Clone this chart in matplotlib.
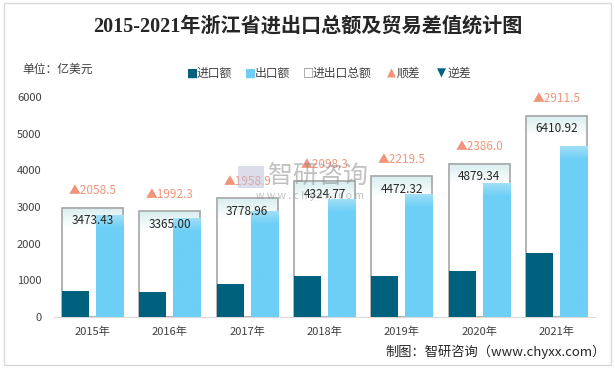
import numpy as np
import matplotlib
matplotlib.use('Agg')
import matplotlib.pyplot as plt
from matplotlib.colors import to_rgb
from matplotlib.patches import Rectangle

plt.rcParams['font.family'] = ['Noto Sans CJK SC', 'DejaVu Sans']

years = ['2015年', '2016年', '2017年', '2018年', '2019年', '2020年', '2021年']
imports = [707.47, 686.35, 910.03, 1113.24, 1126.41, 1246.67, 1749.71]
exports = [2765.97, 2678.65, 2868.93, 3211.54, 3345.91, 3632.67, 4661.21]
totals = [3473.43, 3365.00, 3778.96, 4324.77, 4472.32, 4879.34, 6410.92]
surplus = [2058.5, 1992.3, 1958.9, 2098.3, 2219.5, 2386.0, 2911.5]

c_imp = '#00617F'
c_exp = '#6DCFF6'
c_sur = '#F29479'
c_edge = '#A6A6A6'


def grad_rect(axis, x0, x1, y0, y1, top, bot, g, z):
    # vertical gradient, top colour fading to bot over the upper g units
    ys = np.linspace(y0, y1, 300)
    w = np.clip((ys - (y1 - g)) / g, 0, 1)[:, None]
    cols = np.array(to_rgb(bot)) * (1 - w) + np.array(to_rgb(top)) * w
    axis.imshow(cols[:, None, :], extent=[x0, x1, y0, y1], origin='lower',
                aspect='auto', interpolation='bilinear', zorder=z)


fig = plt.figure(figsize=(6.15, 3.69), dpi=100)
fig.patches.append(Rectangle((4 / 615, 4 / 369), 607 / 615, 362 / 369,
                             transform=fig.transFigure, fill=False,
                             edgecolor='#D9D9D9', lw=1))

ax = fig.add_axes([54 / 615, 1 - 317 / 369, 541 / 615, 220 / 369])
x = np.arange(len(years))
bw = 0.79

# total boxes (own hidden scale 0-7000)
for i, t in enumerate(totals):
    grad_rect(ax, x[i] - bw / 2, x[i] + bw / 2, 0, t, '#D8EEEF', '#FFFFFF', 650, 1)
    ax.add_patch(Rectangle((x[i] - bw / 2, 0), bw, t, fill=False,
                           edgecolor=c_edge, lw=1.2, zorder=2))
ax.set_xlim(-0.5, len(years) - 0.5)
ax.set_ylim(0, 7000)

ax2 = ax.twinx()
ax2.bar(x - 0.22, imports, 0.35, color=c_imp, zorder=3)
ax2.bar(x + 0.22, exports, 0.35, color=c_exp, zorder=3)
for i, e in enumerate(exports):
    grad_rect(ax2, x[i] + 0.045, x[i] + 0.395, 0, e, '#A2DFF7', c_exp, 350, 4)
ax2.set_xlim(-0.5, len(years) - 0.5)
ax2.set_ylim(0, 6000)
ax2.yaxis.tick_left()
ax2.set_yticks(range(0, 7000, 1000))
ax2.tick_params(axis='y', length=0, pad=9, labelsize=8, labelcolor='#404040')
ax.yaxis.set_visible(False)
for a in (ax, ax2):
    for s in ('top', 'right', 'left'):
        a.spines[s].set_visible(False)
ax2.spines['bottom'].set_visible(False)
ax.spines['bottom'].set_color('#D9D9D9')
ax.set_xticks(x)
ax.set_xticklabels(years)
ax.tick_params(axis='x', length=0, pad=7, labelsize=8, labelcolor='#404040')

for i, t in enumerate(totals):
    ax2.annotate('%.2f' % t, xy=(x[i], t), xycoords=ax.transData,
                 xytext=(0, -13), textcoords='offset pixels', ha='center',
                 va='center', fontsize=8.5, color='#262626', zorder=6)
    ax2.annotate('▲' + '%.1f' % surplus[i], xy=(x[i], t), xycoords=ax.transData,
                 xytext=(0, 17), textcoords='offset pixels', ha='center',
                 va='center', fontsize=8.5, color=c_sur, zorder=6)

# watermark
fig.text(268 / 615, 1 - 176 / 369, '智研咨询', fontsize=18, color='#8F8F8F',
         alpha=0.55, va='center', ha='left')
fig.text(310 / 615, 1 - 196 / 369, 'w w w . c h y x x . c o m', fontsize=7.5,
         color='#8F8F8F', alpha=0.55, va='center', ha='center')
fig.patches.append(Rectangle((238 / 615, 1 - 188 / 369), 26 / 615, 22 / 369,
                             transform=fig.transFigure, facecolor='#B8BFD6',
                             edgecolor='none', alpha=0.5))

fig.text(0.5, 1 - 27 / 369, '2015-2021年浙江省进出口总额及贸易差值统计图',
         ha='center', va='center', fontsize=14.5, weight='bold', color='#262626',
         family=['Liberation Serif', 'Noto Sans CJK SC'])
fig.text(22 / 615, 1 - 69 / 369, '单位：亿美元', fontsize=8.5, color='#404040',
         va='center')

# legend
items = [(187, '■', c_imp, '进口额'), (245, '■', c_exp, '出口额'),
         (303, '□', '#8C8C8C', '进出口总额'), (387, '▲', c_sur, '顺差'),
         (437, '▼', c_imp, '逆差')]
for px, sym, col, lab in items:
    fig.text(px / 615, 1 - 73 / 369, sym, fontsize=8.5, color=col, va='center',
             family=['DejaVu Sans'])
    fig.text((px + 10) / 615, 1 - 73 / 369, lab, fontsize=8.5, color='#404040',
             va='center')

fig.text(606 / 615, 1 - 352 / 369, '制图：智研咨询（www.chyxx.com）', ha='right',
         va='center', fontsize=9.5, color='#262626')

fig.savefig('out.png', dpi=100)
